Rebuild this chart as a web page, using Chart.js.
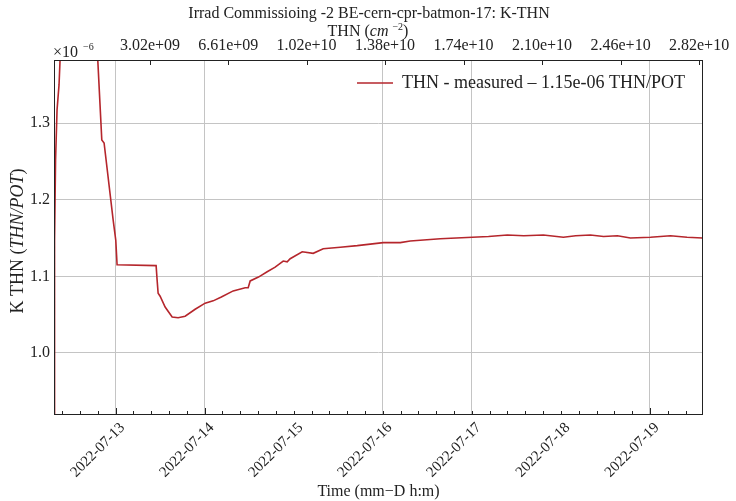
<!DOCTYPE html>
<html>
<head>
<meta charset="utf-8">
<script src="https://cdn.jsdelivr.net/npm/chart.js@4.4.1/dist/chart.umd.min.js"></script>
<style>
  html, body { margin: 0; padding: 0; background: #fff; }
  #wrap { width: 736px; height: 501px; position: relative; }
</style>
</head>
<body>
<div id="wrap"><canvas id="c" width="736" height="501"></canvas></div>
<script>
// Time axis: hours since 2022-07-13 00:00
const hours = [-16.58, -16.45, -16.18, -15.78, -15.24, -14.97, -14.6, -12.0, -8.0, -5.3,
  -4.80, -3.72, -3.10, -0.67, 0.05, 0.40, 10.92, 11.19, 11.46, 12.0,
  13.35, 15.24, 16.85, 18.74, 21.44, 24.13, 26.29, 28.5, 31.69, 34.92, 35.73,
  36.27, 38.5, 40.85, 43.0, 45.17, 46.24, 47.05, 50.29, 53.26, 55.95, 60.54, 65.12,
  68.63, 72.13, 76.72, 79.41, 87.5, 96.13, 100.5, 105.57, 110.0, 115.28, 120.67, 124.0, 127.95,
  131.5, 135.24, 138.74, 144.13, 149.53, 154.0, 158.16];

// K THN in units of 1e-6 THN/POT
const kthn = [0.90, 1.147, 1.252, 1.317, 1.350, 1.382, 1.42, 1.46, 1.46, 1.40,
  1.382, 1.278, 1.274, 1.174, 1.147, 1.115, 1.114, 1.095, 1.078, 1.074,
  1.060, 1.047, 1.046, 1.048, 1.057, 1.065, 1.068, 1.073, 1.081, 1.085, 1.085,
  1.094, 1.099, 1.106, 1.112, 1.120, 1.119, 1.123, 1.132, 1.130, 1.136, 1.138, 1.140,
  1.142, 1.144, 1.144, 1.146, 1.149, 1.151, 1.152, 1.154, 1.153, 1.154, 1.151, 1.153, 1.154,
  1.152, 1.153, 1.150, 1.151, 1.153, 1.151, 1.150];

const dayTicks = [0, 24, 48, 72, 96, 120, 144];
const dayLabels = ['2022-07-13', '2022-07-14', '2022-07-15', '2022-07-16', '2022-07-17', '2022-07-18', '2022-07-19'];
const dayGridShown = ['2022-07-13', '2022-07-14', '2022-07-16', '2022-07-17', '2022-07-19'];

const yTicks = [1.0, 1.1, 1.2, 1.3];
const yLabels = ['1.0', '1.1', '1.2', '1.3'];

const thnTicks = [3.02e9, 6.61e9, 1.02e10, 1.38e10, 1.74e10, 2.10e10, 2.46e10, 2.82e10];
const thnLabels = ['3.02e+09', '6.61e+09', '1.02e+10', '1.38e+10', '1.74e+10', '2.10e+10', '2.46e+10', '2.82e+10'];

const seriesLabel = 'THN - measured – 1.15e-06 THN/POT';

const SERIF = '"Liberation Serif", "DejaVu Serif", serif';
const INK = '#222';
const LINE = '#b5262c';

function drawRuns(ctx, runs, x, y, align) {
  // runs: [{t, font, dy}]
  let total = 0;
  runs.forEach(r => { ctx.font = r.font; total += ctx.measureText(r.t).width; });
  let cx = align === 'center' ? x - total / 2 : x;
  runs.forEach(r => {
    ctx.font = r.font;
    ctx.fillText(r.t, cx, y + (r.dy || 0));
    cx += ctx.measureText(r.t).width;
  });
}

const decorations = {
  id: 'decorations',
  afterDraw(chart) {
    const { ctx, chartArea: a } = chart;
    ctx.save();
    // frame
    ctx.strokeStyle = INK;
    ctx.lineWidth = 1;
    ctx.strokeRect(Math.round(a.left) + 0.5, Math.round(a.top) + 0.5,
      Math.round(a.right - a.left) - 1, Math.round(a.bottom - a.top));

    // inner minor ticks on the time axis and the fluence axis
    const xs = chart.scales.x;
    ctx.beginPath();
    for (let h = -14.4; h < 158.3; h += 4.8) {
      const px = Math.round(xs.getPixelForValue(h)) + 0.5;
      const len = Math.abs(h % 24) < 0.01 ? 6 : 3;
      ctx.moveTo(px, a.bottom); ctx.lineTo(px, a.bottom - len);
    }
    const ts = chart.scales.x2;
    for (const v of thnTicks) {
      const px = Math.round(ts.getPixelForValue(v)) + 0.5;
      ctx.moveTo(px, a.top); ctx.lineTo(px, a.top + 5);
    }
    ctx.stroke();

    ctx.fillStyle = INK;
    ctx.textBaseline = 'middle';
    // title and top-axis title
    drawRuns(ctx, [{ t: 'Irrad Commissioing -2 BE-cern-cpr-batmon-17: K-THN', font: '16px ' + SERIF }], 369, 14, 'center');
    drawRuns(ctx, [
      { t: 'THN (', font: '16px ' + SERIF },
      { t: 'cm', font: 'italic 16px ' + SERIF },
      { t: ' ', font: '16px ' + SERIF },
      { t: '−2', font: '10px ' + SERIF, dy: -5 },
      { t: ')', font: '16px ' + SERIF }
    ], 368, 32, 'center');

    // exponent label of the y axis
    drawRuns(ctx, [
      { t: '×10', font: '16px ' + SERIF },
      { t: '  −6', font: '10px ' + SERIF, dy: -6 }
    ], a.left - 1, 53, 'left');

    // y axis title
    ctx.save();
    ctx.translate(18, 241);
    ctx.rotate(-Math.PI / 2);
    drawRuns(ctx, [
      { t: 'K THN (', font: '18px ' + SERIF },
      { t: 'THN/POT', font: 'italic 18px ' + SERIF },
      { t: ')', font: '18px ' + SERIF }
    ], 0, 0, 'center');
    ctx.restore();

    // legend entry
    const ds = chart.data.datasets[0];
    ctx.strokeStyle = ds.borderColor;
    ctx.lineWidth = 1.6;
    ctx.beginPath();
    ctx.moveTo(357, 83); ctx.lineTo(393, 83);
    ctx.stroke();
    ctx.fillStyle = INK;
    drawRuns(ctx, [{ t: ds.label, font: '18px ' + SERIF }], 402, 83, 'left');
    ctx.restore();
  }
};

new Chart(document.getElementById('c'), {
  type: 'line',
  data: {
    datasets: [{
      label: seriesLabel,
      data: hours.map((h, i) => ({ x: h, y: kthn[i] })),
      borderColor: LINE,
      borderWidth: 1.6,
      pointRadius: 0,
      tension: 0,
      fill: false
    }]
  },
  options: {
    responsive: false,
    animation: false,
    devicePixelRatio: 1,
    layout: { padding: { left: 0, right: 33, top: 0, bottom: 0 } },
    plugins: { legend: { display: false }, tooltip: { enabled: false } },
    scales: {
      x: {
        type: 'linear',
        position: 'bottom',
        min: -16.6,
        max: 158.3,
        afterBuildTicks: s => { s.ticks = dayTicks.map(v => ({ value: v })); },
        afterFit: s => { s.height = 87; },
        ticks: {
          autoSkip: false,
          minRotation: 45,
          maxRotation: 45,
          padding: 5,
          labelOffset: 7,
          color: INK,
          font: { family: SERIF, size: 15 },
          callback: v => dayLabels[dayTicks.indexOf(v)]
        },
        grid: {
          drawTicks: false,
          lineWidth: 1,
          color: c => (c.tick && dayGridShown.includes(dayLabels[dayTicks.indexOf(c.tick.value)])) ? '#c4c4c4' : 'rgba(0,0,0,0)'
        },
        border: { display: false },
        title: {
          display: true,
          text: 'Time (mm−D h:m)',
          color: INK,
          font: { family: SERIF, size: 16 },
          padding: { top: 0, bottom: 0 }
        }
      },
      x2: {
        type: 'linear',
        position: 'top',
        min: -1.38e9,
        max: 28.38e9,
        afterBuildTicks: s => { s.ticks = thnTicks.map(v => ({ value: v })); },
        afterFit: s => { s.height = 60; },
        ticks: {
          autoSkip: false,
          maxRotation: 0,
          padding: 5,
          color: INK,
          font: { family: SERIF, size: 16 },
          callback: v => thnLabels[thnTicks.indexOf(v)]
        },
        grid: { drawOnChartArea: false, drawTicks: false },
        border: { display: false }
      },
      y: {
        type: 'linear',
        position: 'left',
        min: 0.9204,
        max: 1.3822,
        afterBuildTicks: s => { s.ticks = yTicks.map(v => ({ value: v })); },
        afterFit: s => { s.width = 54; },
        ticks: {
          padding: 4,
          color: INK,
          font: { family: SERIF, size: 16 },
          callback: v => yLabels[yTicks.indexOf(v)]
        },
        grid: { drawTicks: false, color: '#c4c4c4', lineWidth: 1 },
        border: { display: false }
      }
    }
  },
  plugins: [decorations]
});
</script>
</body>
</html>
